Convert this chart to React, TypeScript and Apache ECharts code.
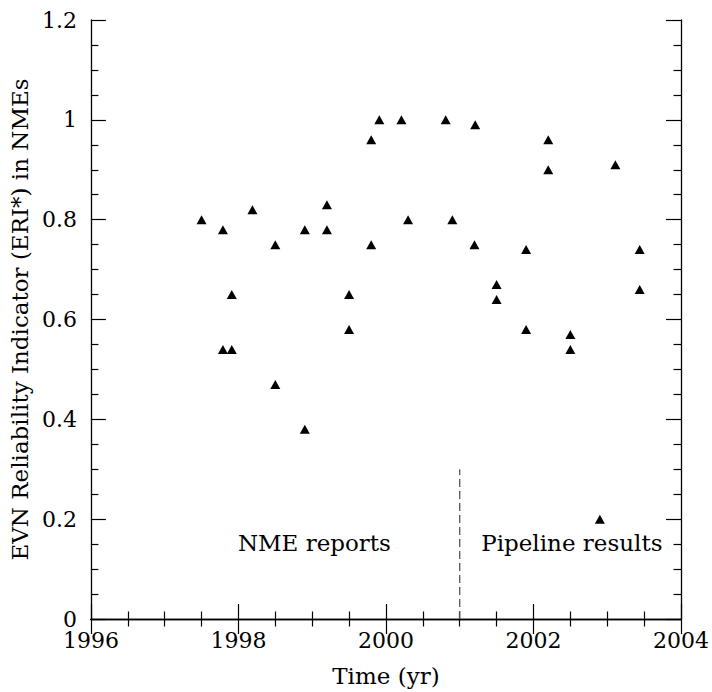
import React, { useEffect, useRef } from "react";
import * as echarts from "echarts";

const years: number[] = [
  1997.5, 1997.79, 1997.79, 1997.91, 1997.91, 1998.19, 1998.5, 1998.5, 1998.9, 1998.9,
  1999.2, 1999.2, 1999.5, 1999.5, 1999.8, 1999.8, 1999.91, 2000.21, 2000.3, 2000.81,
  2000.9, 2001.21, 2001.2, 2001.5, 2001.5, 2001.9, 2001.9, 2002.2, 2002.2, 2002.5,
  2002.5, 2002.9, 2003.11, 2003.44, 2003.44,
];
const eri: number[] = [
  0.8, 0.78, 0.54, 0.54, 0.65, 0.82, 0.75, 0.47, 0.78, 0.38,
  0.83, 0.78, 0.65, 0.58, 0.96, 0.75, 1.0, 1.0, 0.8, 1.0,
  0.8, 0.99, 0.75, 0.67, 0.64, 0.74, 0.58, 0.96, 0.9, 0.57,
  0.54, 0.2, 0.91, 0.74, 0.66,
];
const dividerYear = 2001;
const dividerTop = 0.3;
const regionLabels: string[] = ["NME reports", "Pipeline results"];
const regionLabelX: number[] = [1999.03, 2002.52];
const regionLabelY = 0.152;

const FONT = "'DejaVu Serif', 'Liberation Serif', serif";

export default function App() {
  const ref = useRef<HTMLDivElement>(null);
  useEffect(() => {
    if (!ref.current) return;
    const chart = echarts.init(ref.current, undefined, { renderer: "svg" });
    const tickCommon = {
      axisLine: { show: true, lineStyle: { color: "#000", width: 1.3 } },
      axisTick: { show: true, inside: true, length: 15, lineStyle: { color: "#000", width: 1.2 } },
      minorTick: { show: true, splitNumber: 4, length: 7.5, lineStyle: { color: "#000", width: 1.2 } },
      splitLine: { show: false },
      minorSplitLine: { show: false },
    };
    const xBase = { type: "value", min: 1996, max: 2004, interval: 2, ...tickCommon };
    const yBase = { type: "value", min: 0, max: 1.2, interval: 0.2, ...tickCommon };
    chart.setOption({
      animation: false,
      backgroundColor: "#fff",
      grid: { left: 85, right: 28.5, top: 20, bottom: 72, containLabel: false },
      xAxis: [
        {
          ...xBase,
          position: "bottom",
          name: "Time (yr)",
          nameLocation: "middle",
          nameGap: 45,
          nameTextStyle: { fontFamily: FONT, fontSize: 23, color: "#000" },
          axisLabel: {
            fontFamily: FONT,
            fontSize: 22,
            color: "#000",
            margin: 10,
            formatter: (v: number) => String(v),
          },
        },
        { ...xBase, position: "top", axisLabel: { show: false } },
      ],
      yAxis: [
        {
          ...yBase,
          position: "left",
          name: "EVN Reliability Indicator (ERI*) in NMEs",
          nameLocation: "middle",
          nameGap: 50,
          nameTextStyle: { fontFamily: FONT, fontSize: 23, color: "#000" },
          axisLabel: {
            fontFamily: FONT,
            fontSize: 22,
            color: "#000",
            margin: 14,
            formatter: (v: number) => String(Math.round(v * 10) / 10),
          },
        },
        { ...yBase, position: "right", axisLabel: { show: false } },
      ],
      series: [
        {
          type: "scatter",
          xAxisIndex: 0,
          yAxisIndex: 0,
          symbol: "triangle",
          symbolSize: [10, 9],
          itemStyle: { color: "#000", opacity: 1 },
          data: years.map((y, i) => [y, eri[i]]),
        },
        {
          type: "line",
          xAxisIndex: 0,
          yAxisIndex: 0,
          symbol: "none",
          lineStyle: { color: "#555", width: 1.3, type: [8, 4] },
          data: [
            [dividerYear, 0],
            [dividerYear, dividerTop],
          ],
        },
        {
          type: "scatter",
          xAxisIndex: 0,
          yAxisIndex: 0,
          symbolSize: 0,
          itemStyle: { opacity: 1 },
          label: {
            show: true,
            position: "inside",
            fontFamily: FONT,
            fontSize: 23,
            color: "#000",
            opacity: 1,
            formatter: (p: any) => p.data[2],
          },
          data: regionLabels.map((t, i) => [regionLabelX[i], regionLabelY, t]),
        },
      ],
    });
    return () => chart.dispose();
  }, []);
  return (
    <div
      ref={ref}
      style={{ position: "fixed", left: 0, top: 0, width: 712, height: 692, background: "#fff" }}
    />
  );
}
